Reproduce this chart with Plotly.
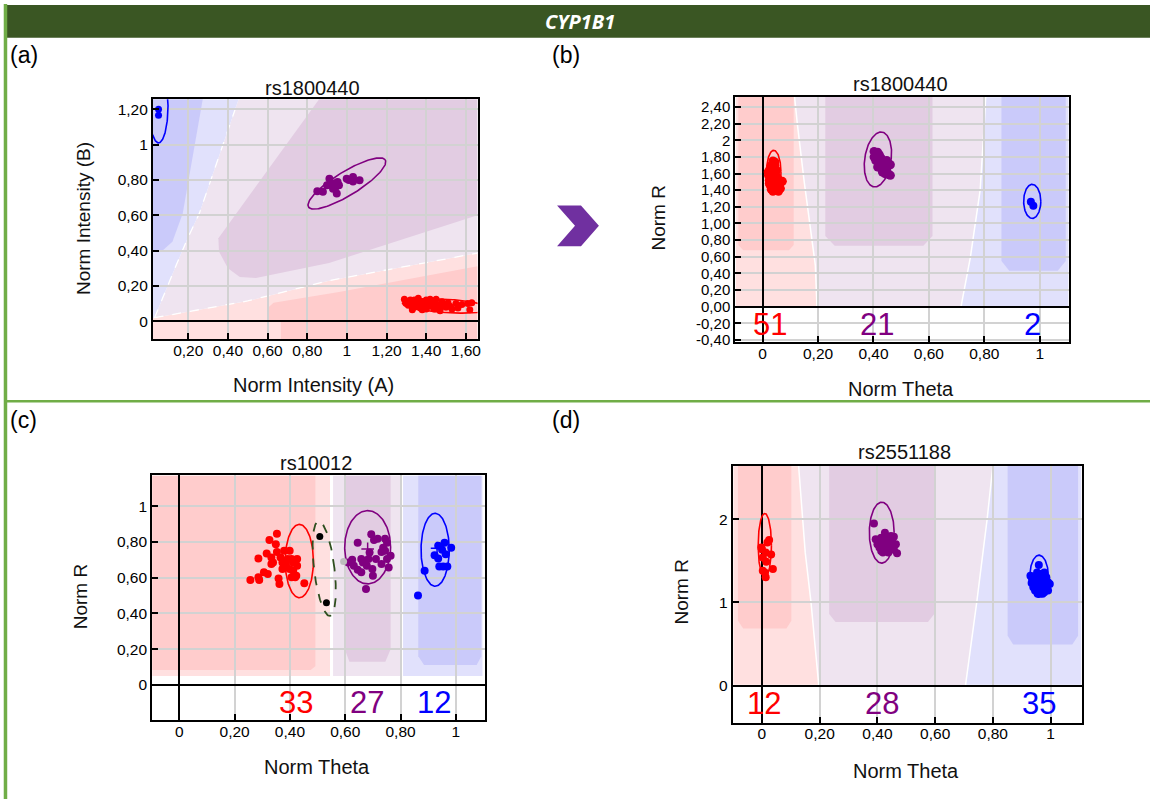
import numpy as np
import plotly.graph_objects as go

W, H = 1154, 805

# ---------------- text ----------------
HEADER = "CYP1B1"
PANEL_LABELS = ["(a)", "(b)", "(c)", "(d)"]
SNP_TITLES = ["rs1800440", "rs1800440", "rs10012", "rs2551188"]
X_TITLES = ["Norm Intensity (A)", "Norm Theta", "Norm Theta", "Norm Theta"]
Y_TITLES = ["Norm Intensity (B)", "Norm R", "Norm R", "Norm R"]

# ---------------- axes ----------------
A_XRANGE = [0.022, 1.659]
A_YRANGE = [-0.103, 1.257]
B_XRANGE = [-0.099, 1.106]
B_YRANGE = [-0.43, 2.526]
C_XRANGE = [-0.098, 1.106]
C_YRANGE = [-0.198, 1.172]
D_XRANGE = [-0.101, 1.108]
D_YRANGE = [-0.448, 2.644]

A_XTICKS = [0.2, 0.4, 0.6, 0.8, 1.0, 1.2, 1.4, 1.6]
A_XTICKTEXT = ["0,20", "0,40", "0,60", "0,80", "1", "1,20", "1,40", "1,60"]
A_YTICKS = [0, 0.2, 0.4, 0.6, 0.8, 1.0, 1.2]
A_YTICKTEXT = ["0", "0,20", "0,40", "0,60", "0,80", "1", "1,20"]
THETA_TICKS = [0, 0.2, 0.4, 0.6, 0.8, 1.0]
THETA_TICKTEXT = ["0", "0,20", "0,40", "0,60", "0,80", "1"]
B_YTICKS = [-0.4, -0.2, 0, 0.2, 0.4, 0.6, 0.8, 1.0, 1.2, 1.4, 1.6, 1.8, 2.0, 2.2, 2.4]
B_YTICKTEXT = ["-0,40", "-0,20", "0,00", "0,20", "0,40", "0,60", "0,80", "1,00",
               "1,20", "1,40", "1,60", "1,80", "2", "2,20", "2,40"]
C_YTICKS = [0, 0.2, 0.4, 0.6, 0.8, 1.0]
C_YTICKTEXT = ["0", "0,20", "0,40", "0,60", "0,80", "1"]
D_YTICKS = [0, 1, 2]
D_YTICKTEXT = ["0", "1", "2"]

# ---------------- genotype counts ----------------
B_COUNTS = ["51", "21", "2"]
B_COUNT_X = [0.028, 0.412, 0.975]
C_COUNTS = ["33", "27", "12"]
C_COUNT_X = [0.423, 0.677, 0.92]
D_COUNTS = ["12", "28", "35"]
D_COUNT_X = [0.006, 0.417, 0.96]

# ---------------- cluster points ----------------
# (a) Norm Intensity A / B
A_RED_X = [1.29, 1.30, 1.31, 1.32, 1.33, 1.34, 1.35, 1.36, 1.36, 1.37, 1.38, 1.39, 1.40, 1.40,
           1.41, 1.42, 1.43, 1.44, 1.44, 1.45, 1.46, 1.47, 1.48, 1.49, 1.50, 1.51, 1.52, 1.53,
           1.55, 1.56, 1.58, 1.61, 1.63, 1.62, 1.33, 1.38, 1.47, 1.42, 1.35, 1.30, 1.34, 1.37]
A_RED_Y = [0.125, 0.11, 0.09, 0.12, 0.10, 0.08, 0.115, 0.095, 0.13, 0.075, 0.11, 0.09, 0.12, 0.07,
           0.10, 0.085, 0.115, 0.07, 0.10, 0.125, 0.09, 0.075, 0.11, 0.095, 0.08, 0.105, 0.085, 0.07,
           0.10, 0.075, 0.095, 0.10, 0.105, 0.065, 0.065, 0.065, 0.06, 0.125, 0.095, 0.10, 0.12, 0.10]
A_PURPLE_X = [0.851, 0.879, 0.912, 0.925, 0.944, 0.949, 0.953, 0.999, 1.031, 1.031, 1.064,
              0.94, 0.93, 0.96, 0.90, 1.01]
A_PURPLE_Y = [0.736, 0.733, 0.807, 0.779, 0.761, 0.723, 0.789, 0.807, 0.817, 0.792, 0.798,
              0.78, 0.75, 0.77, 0.77, 0.80]
A_BLUE_X = [0.05, 0.05]
A_BLUE_Y = [1.20, 1.166]

# (b) rs1800440 Theta / R
B_RED_X = [0.037, 0.031, 0.044, 0.024, 0.037, 0.050, 0.021, 0.035, 0.048, 0.024, 0.037, 0.053,
           0.071, 0.027, 0.044, 0.061, 0.031, 0.048, 0.064, 0.037, 0.057, 0.024, 0.041, 0.028,
           0.054, 0.044, 0.020, 0.033, 0.050, 0.044]
B_RED_Y = [1.751, 1.698, 1.698, 1.638, 1.638, 1.638, 1.579, 1.579, 1.579, 1.519, 1.519, 1.519,
           1.507, 1.460, 1.460, 1.460, 1.412, 1.412, 1.420, 1.388, 1.388, 1.480, 1.607, 1.539,
           1.548, 1.739, 1.619, 1.440, 1.440, 1.667]
B_PURPLE_X = [0.402, 0.415, 0.408, 0.421, 0.428, 0.408, 0.435, 0.421, 0.454, 0.461, 0.441,
              0.415, 0.428, 0.448, 0.454, 0.441, 0.461, 0.435, 0.402, 0.448, 0.432]
B_PURPLE_Y = [1.865, 1.858, 1.818, 1.826, 1.786, 1.758, 1.739, 1.718, 1.718, 1.706, 1.698,
              1.679, 1.659, 1.639, 1.587, 1.599, 1.579, 1.679, 1.798, 1.758, 1.619]
B_BLUE_X = [0.968, 0.977]
B_BLUE_Y = [1.261, 1.214]

# (c) rs10012 Theta / R
C_RED_X = [0.257, 0.286, 0.289, 0.286, 0.316, 0.320, 0.326, 0.333, 0.339, 0.353, 0.349, 0.353,
           0.359, 0.362, 0.373, 0.379, 0.392, 0.399, 0.399, 0.406, 0.412, 0.419, 0.426, 0.426,
           0.423, 0.452, 0.333, 0.366, 0.306, 0.406, 0.386, 0.373, 0.412]
C_RED_Y = [0.587, 0.602, 0.587, 0.707, 0.735, 0.620, 0.811, 0.713, 0.685, 0.846, 0.787, 0.744,
           0.596, 0.565, 0.685, 0.750, 0.704, 0.750, 0.648, 0.704, 0.639, 0.602, 0.704, 0.667,
           0.611, 0.569, 0.676, 0.713, 0.630, 0.602, 0.676, 0.648, 0.685]
C_PURPLE_X = [0.645, 0.694, 0.704, 0.717, 0.744, 0.751, 0.611, 0.625, 0.631, 0.645, 0.658, 0.658,
              0.678, 0.684, 0.688, 0.698, 0.700, 0.711, 0.731, 0.731, 0.744, 0.751, 0.757, 0.764,
              0.675, 0.664, 0.737]
C_PURPLE_Y = [0.796, 0.843, 0.811, 0.818, 0.818, 0.796, 0.685, 0.700, 0.667, 0.644, 0.704, 0.630,
              0.667, 0.704, 0.741, 0.648, 0.611, 0.704, 0.744, 0.676, 0.750, 0.704, 0.657, 0.722,
              0.537, 0.685, 0.768]
C_BLUE_X = [0.887, 0.863, 0.923, 0.936, 0.959, 0.950, 0.983, 0.963, 0.940, 0.969, 0.954, 0.936]
C_BLUE_Y = [0.639, 0.500, 0.726, 0.778, 0.796, 0.756, 0.767, 0.731, 0.663, 0.663, 0.663, 0.707]
C_NOCALL_X = [0.508, 0.532]
C_NOCALL_Y = [0.830, 0.459]
C_GREY_X = [0.594]
C_GREY_Y = [0.691]
C_CENTER_X = [0.681, 0.932]
C_CENTER_Y = [0.761, 0.765]

# (d) rs2551188 Theta / R
D_RED_X = [-0.002, 0.003, 0.013, 0.019, 0.025, 0.032, 0.038, 0.003, 0.013, 0.010, 0.015, 0.000]
D_RED_Y = [1.658, 1.539, 1.598, 1.718, 1.750, 1.574, 1.400, 1.380, 1.300, 1.360, 1.487, 1.638]
D_PURPLE_X = [0.388, 0.426, 0.447, 0.457, 0.394, 0.407, 0.419, 0.432, 0.445, 0.464, 0.407, 0.426,
              0.438, 0.451, 0.419, 0.468, 0.413, 0.400, 0.432, 0.445, 0.457, 0.426, 0.413, 0.438,
              0.451, 0.419, 0.432, 0.445]
D_PURPLE_Y = [1.948, 1.837, 1.797, 1.789, 1.758, 1.738, 1.718, 1.718, 1.698, 1.698, 1.658, 1.638,
              1.646, 1.678, 1.598, 1.591, 1.777, 1.698, 1.777, 1.758, 1.638, 1.686, 1.618, 1.598,
              1.726, 1.758, 1.658, 1.630]
D_BLUE_X = [0.959, 0.930, 0.940, 0.953, 0.966, 0.978, 0.985, 0.991, 0.934, 0.946, 0.959, 0.972,
            0.985, 0.953, 0.966, 0.940, 0.978, 0.991, 0.955, 0.972, 0.950, 0.963, 0.976, 0.937,
            0.988, 0.997, 0.968, 0.946, 0.959, 0.981, 0.934, 0.972, 0.953, 0.966, 0.985]
D_BLUE_Y = [1.448, 1.320, 1.288, 1.320, 1.340, 1.360, 1.300, 1.240, 1.233, 1.221, 1.240, 1.261,
            1.181, 1.162, 1.141, 1.181, 1.121, 1.141, 1.102, 1.209, 1.272, 1.288, 1.300, 1.261,
            1.209, 1.221, 1.181, 1.141, 1.201, 1.240, 1.300, 1.102, 1.360, 1.240, 1.272]

# ---------------- cluster ellipses: centre x, centre y, semi-axis x, semi-axis y, angle ----------------
A_ELLIPSES = [("blue", 0.05, 1.22, 0.048, 0.21, 0), ("purple", 1.0, 0.78, 0.235, 0.065, 35),
              ("red", 1.50, 0.087, 0.22, 0.038, -4)]
B_ELLIPSES = [("red", 0.04, 1.62, 0.026, 0.26, 0), ("purple", 0.416, 1.77, 0.048, 0.33, -2),
              ("blue", 0.973, 1.266, 0.031, 0.205, 0)]
C_ELLIPSES = [("red", 0.434, 0.693, 0.051, 0.205, 0), ("purple", 0.681, 0.77, 0.083, 0.205, 0),
              ("blue", 0.925, 0.756, 0.051, 0.204, 0)]
C_NOCALL_ELLIPSE = (0.524, 0.651, 0.037, 0.266, 4.3)
D_ELLIPSES = [("red", 0.01, 1.684, 0.023, 0.384, 0), ("purple", 0.415, 1.837, 0.043, 0.366, 0),
              ("blue", 0.96, 1.314, 0.032, 0.253, 0)]

# ---------------- call regions (polygons in data units) ----------------
A_REGIONS = [
    ("LR", [0.022, 1.659, 1.659, 0.91, 0.5, 0.03, 0.022],
           [-0.103, -0.103, 0.386, 0.23, 0.115, 0.02, 0.02]),
    ("LP", [0.03, 0.5, 0.91, 1.659, 1.659, 0.454, 0.256, 0.197, 0.14],
           [0.02, 0.115, 0.23, 0.386, 1.257, 1.257, 0.611, 0.47, 0.32]),
    ("LB", [0.022, 0.03, 0.14, 0.197, 0.256, 0.454, 0.022],
           [0.02, 0.02, 0.32, 0.47, 0.611, 1.257, 1.257]),
    ("DR", [0.667, 0.667, 0.605, 0.605, 0.63, 0.96, 1.659, 1.659],
           [-0.103, 0.0, 0.0, 0.08, 0.105, 0.165, 0.311, -0.103]),
    ("DP", [0.352, 0.86, 1.659, 1.659, 0.91, 0.541, 0.46, 0.40, 0.355],
           [0.47, 1.257, 1.257, 0.60, 0.33, 0.245, 0.25, 0.30, 0.395]),
    ("DB", [0.022, 0.273, 0.172, 0.12, 0.065, 0.022], [1.257, 1.257, 0.61, 0.45, 0.395, 0.395]),
]
A_BOUNDARIES = [
    ([0.03, 0.5, 0.91, 1.659], [0.02, 0.115, 0.23, 0.386]),
    ([0.03, 0.14, 0.197, 0.256, 0.454], [0.02, 0.32, 0.47, 0.611, 1.257]),
]
B_REGIONS = [
    ("LP", [-0.099, 1.106, 1.106, -0.099], [0, 0, 2.526, 2.526]),
    ("LR", [-0.099, -0.099, 0.115, 0.125, 0.15, 0.19, 0.196], [0, 2.526, 2.526, 2.2, 1.5, 0.5, 0]),
    ("LB", [0.716, 0.75, 0.785, 0.80, 0.805, 1.106, 1.106], [0, 0.6, 1.4, 2.2, 2.526, 2.526, 0]),
    ("DR", [-0.088, 0.112, 0.112, 0.095, -0.07, -0.088], [2.526, 2.526, 0.74, 0.677, 0.677, 0.74]),
    ("DP", [0.226, 0.613, 0.613, 0.58, 0.26, 0.226], [2.526, 2.526, 0.85, 0.731, 0.731, 0.85]),
    ("DB", [0.862, 1.094, 1.094, 1.065, 0.89, 0.862], [2.526, 2.526, 0.55, 0.433, 0.433, 0.55]),
]
C_REGIONS = [
    ("LR", [-0.098, -0.098, 0.545, 0.545], [0.05, 1.172, 1.172, 0.05]),
    ("LP", [0.556, 0.556, 0.800, 0.800], [0.05, 1.172, 1.172, 0.05]),
    ("LB", [0.809, 0.809, 1.096, 1.096], [0.05, 1.172, 1.172, 0.05]),
    ("DR", [-0.098, -0.098, 0.492, 0.492, 0.475], [0.083, 1.172, 1.172, 0.105, 0.083]),
    ("DP", [0.598, 0.764, 0.764, 0.745, 0.615, 0.598], [1.172, 1.172, 0.20, 0.13, 0.13, 0.20]),
    ("DB", [0.864, 1.092, 1.092, 1.075, 0.885, 0.864], [1.172, 1.172, 0.16, 0.111, 0.111, 0.16]),
]
D_REGIONS = [
    ("LP", [-0.101, 1.108, 1.108, -0.101], [0, 0, 2.644, 2.644]),
    ("LR", [-0.101, -0.101, 0.127, 0.15, 0.17, 0.197], [0, 2.644, 2.644, 1.6, 1.0, 0]),
    ("LB", [0.705, 0.744, 0.78, 0.80, 1.108, 1.108], [0, 1.0, 2.0, 2.644, 2.644, 0]),
    ("DR", [-0.083, 0.102, 0.102, 0.085, -0.065, -0.083], [2.644, 2.644, 0.78, 0.685, 0.685, 0.78]),
    ("DP", [0.233, 0.597, 0.597, 0.575, 0.255, 0.233], [2.644, 2.644, 0.86, 0.763, 0.763, 0.86]),
    ("DB", [0.851, 1.095, 1.095, 1.075, 0.87, 0.851], [2.644, 2.644, 0.6, 0.494, 0.494, 0.6]),
]

# ---------------- styles ----------------
COL = {"red": "#FF0000", "purple": "#800080", "blue": "#0000FF"}
FILL = {"LR": "#FFE0E0", "DR": "#FFCCCC", "LP": "#EFE4F0", "DP": "#E2CCE2",
        "LB": "#E1E1FC", "DB": "#CACAFA"}
FONT = "Liberation Sans, Arial, sans-serif"
GRID = "#D2D2D2"


def px(x):
    return x / W


def py(y):
    return 1 - y / H


def ellipse(cx, cy, rx, ry, ang):
    t = np.linspace(0, 2 * np.pi, 160)
    a = np.radians(ang)
    ex = cx + rx * np.cos(t) * np.cos(a) - ry * np.sin(t) * np.sin(a)
    ey = cy + rx * np.cos(t) * np.sin(a) + ry * np.sin(t) * np.cos(a)
    return ex, ey


def path_of(xs, ys, close=True):
    s = "M " + " L ".join(f"{x},{y}" for x, y in zip(xs, ys))
    return s + (" Z" if close else "")


fig = go.Figure()
shapes = []
annotations = []

panels = [
    dict(xa="x", ya="y", xdom=(153.5, 479.2), ydom=(100, 342), xr=A_XRANGE, yr=A_YRANGE,
         xt=A_XTICKS, xtt=A_XTICKTEXT, yt=A_YTICKS, ytt=A_YTICKTEXT, regions=A_REGIONS,
         ell=A_ELLIPSES, pts=[("red", A_RED_X, A_RED_Y, 7), ("purple", A_PURPLE_X, A_PURPLE_Y, 8),
                              ("blue", A_BLUE_X, A_BLUE_Y, 7)],
         title=(314, 88.3), xtitle=(314.7, 388.3), ytitle=(84, 220), label=(8, 55),
         counts=None, ytfs=15.5),
    dict(xa="x2", ya="y2", xdom=(737.8, 1072.8), ydom=(97.3, 345), xr=B_XRANGE, yr=B_YRANGE,
         xt=THETA_TICKS, xtt=THETA_TICKTEXT, yt=B_YTICKS, ytt=B_YTICKTEXT, regions=B_REGIONS,
         ell=B_ELLIPSES, pts=[("red", B_RED_X, B_RED_Y, 9), ("purple", B_PURPLE_X, B_PURPLE_Y, 9),
                              ("blue", B_BLUE_X, B_BLUE_Y, 8)],
         title=(903.8, 84.3), xtitle=(904.6, 391.7), ytitle=(660.5, 220), label=(552, 55),
         counts=(B_COUNTS, B_COUNT_X, -0.22), ytfs=15),
    dict(xa="x3", ya="y3", xdom=(152.7, 486.9), ydom=(479, 725.7), xr=C_XRANGE, yr=C_YRANGE,
         xt=THETA_TICKS, xtt=THETA_TICKTEXT, yt=C_YTICKS, ytt=C_YTICKTEXT, regions=C_REGIONS,
         ell=C_ELLIPSES, pts=[("red", C_RED_X, C_RED_Y, 8), ("purple", C_PURPLE_X, C_PURPLE_Y, 8),
                              ("blue", C_BLUE_X, C_BLUE_Y, 8)],
         title=(317, 466.7), xtitle=(318.4, 772.3), ytitle=(80.2, 600.8), label=(8, 422.7),
         counts=(C_COUNTS, C_COUNT_X, -0.10), ytfs=15.5),
    dict(xa="x4", ya="y4", xdom=(735.3, 1085.6), ydom=(469, 728.3), xr=D_XRANGE, yr=D_YRANGE,
         xt=THETA_TICKS, xtt=THETA_TICKTEXT, yt=D_YTICKS, ytt=D_YTICKTEXT, regions=D_REGIONS,
         ell=D_ELLIPSES, pts=[("red", D_RED_X, D_RED_Y, 8), ("purple", D_PURPLE_X, D_PURPLE_Y, 8),
                              ("blue", D_BLUE_X, D_BLUE_Y, 8)],
         title=(908, 455), xtitle=(909, 776.7), ytitle=(683.7, 596.7), label=(552, 422.7),
         counts=(D_COUNTS, D_COUNT_X, -0.21), ytfs=15.5),
]

layout_axes = {}
for i, p in enumerate(panels):
    n = "" if i == 0 else str(i + 1)
    common = dict(showgrid=True, gridcolor=GRID, gridwidth=2, showline=True, mirror=True,
                  linecolor="black", linewidth=2, ticks="inside", ticklen=6, tickwidth=2,
                  tickcolor="black", zeroline=True, zerolinecolor="black", zerolinewidth=2,
                  tickfont=dict(family=FONT, size=15.5, color="black"), fixedrange=True)
    layout_axes["xaxis" + n] = dict(common, domain=[px(p["xdom"][0]), px(p["xdom"][1])],
                                    range=p["xr"], tickvals=p["xt"], ticktext=p["xtt"],
                                    anchor="y" + n, ticklabelstandoff=-4)
    ycommon = dict(common)
    ycommon["tickfont"] = dict(family=FONT, size=p["ytfs"], color="black")
    layout_axes["yaxis" + n] = dict(ycommon, domain=[py(p["ydom"][1]), py(p["ydom"][0])],
                                    range=p["yr"], tickvals=p["yt"], ticktext=p["ytt"],
                                    anchor="x" + n, ticklabelstandoff=0)

    # regions
    for key, xs, ys in p["regions"]:
        line = dict(width=0)
        if key in ("LR", "LB") and i in (1, 3):
            line = dict(color="white", width=1.5)
        shapes.append(dict(type="path", xref=p["xa"], yref=p["ya"], path=path_of(xs, ys),
                           fillcolor=FILL[key], line=line, layer="below"))
    if i == 0:
        for bx, by in A_BOUNDARIES:
            shapes.append(dict(type="path", xref="x", yref="y", path=path_of(bx, by, False),
                               line=dict(color="white", width=1.3, dash="dash"), layer="below"))

    # ellipses
    for c, cx, cy, rx, ry, ang in p["ell"]:
        ex, ey = ellipse(cx, cy, rx, ry, ang)
        fig.add_trace(go.Scatter(x=ex, y=ey, mode="lines", xaxis=p["xa"], yaxis=p["ya"],
                                 line=dict(color=COL[c], width=1.6), hoverinfo="skip"))
    # points
    for c, xs, ys, sz in p["pts"]:
        fig.add_trace(go.Scatter(x=xs, y=ys, mode="markers", xaxis=p["xa"], yaxis=p["ya"],
                                 marker=dict(color=COL[c], size=sz, line=dict(width=0))))

    # titles
    annotations.append(dict(text=SNP_TITLES[i], x=px(p["title"][0]), y=py(p["title"][1]),
                            xref="paper", yref="paper", showarrow=False,
                            font=dict(family=FONT, size=20, color="#111111"),
                            xanchor="center", yanchor="middle"))
    annotations.append(dict(text=X_TITLES[i], x=px(p["xtitle"][0]), y=py(p["xtitle"][1]),
                            xref="paper", yref="paper", showarrow=False,
                            font=dict(family=FONT, size=20, color="#111111"),
                            xanchor="center", yanchor="middle"))
    annotations.append(dict(text=Y_TITLES[i], x=px(p["ytitle"][0]), y=py(p["ytitle"][1]),
                            xref="paper", yref="paper", showarrow=False, textangle=-90,
                            font=dict(family=FONT, size=19, color="#111111"),
                            xanchor="center", yanchor="middle"))
    annotations.append(dict(text=PANEL_LABELS[i], x=px(p["label"][0]), y=py(p["label"][1]),
                            xref="paper", yref="paper", showarrow=False,
                            font=dict(family=FONT, size=23, color="black"),
                            xanchor="left", yanchor="middle"))
    if p["counts"]:
        labels, xs, yv = p["counts"]
        for lab, xv, c in zip(labels, xs, ["red", "purple", "blue"]):
            annotations.append(dict(text=lab, x=xv, y=yv, xref=p["xa"], yref=p["ya"],
                                    showarrow=False, xanchor="center", yanchor="middle",
                                    font=dict(family=FONT, size=31, color=COL[c])))

# extra marks in panel (c)
ex, ey = ellipse(*C_NOCALL_ELLIPSE)
fig.add_trace(go.Scatter(x=ex, y=ey, mode="lines", xaxis="x3", yaxis="y3",
                         line=dict(color="#2F4F1F", width=1.8, dash="dash"), hoverinfo="skip"))
fig.add_trace(go.Scatter(x=C_GREY_X, y=C_GREY_Y, mode="markers", xaxis="x3", yaxis="y3",
                         marker=dict(color="#BDBDBD", size=7)))
fig.add_trace(go.Scatter(x=C_NOCALL_X, y=C_NOCALL_Y, mode="markers", xaxis="x3", yaxis="y3",
                         marker=dict(color="black", size=7)))
fig.add_trace(go.Scatter(x=C_CENTER_X, y=C_CENTER_Y, mode="markers", xaxis="x3", yaxis="y3",
                         marker=dict(color=[COL["purple"], COL["blue"]], size=9,
                                     symbol="cross-thin", line=dict(width=1.5,
                                     color=[COL["purple"], COL["blue"]]))))

# header bar, frame lines, chevron
shapes.append(dict(type="rect", xref="paper", yref="paper", x0=px(7), x1=1.0,
                   y0=py(38), y1=py(5), fillcolor="#3A5623", line=dict(width=0), layer="above"))
shapes.append(dict(type="line", xref="paper", yref="paper", x0=px(5.5), x1=px(5.5),
                   y0=0, y1=py(4), line=dict(color="#70AD47", width=3.5), layer="above"))
shapes.append(dict(type="line", xref="paper", yref="paper", x0=px(5), x1=1.0,
                   y0=py(404.3), y1=py(404.3), line=dict(color="#70AD47", width=2.5),
                   layer="above"))
chev = [(559, 207), (583, 207), (601, 227.5), (583, 248), (559, 248), (577, 227.5)]
shapes.append(dict(type="path", xref="paper", yref="paper",
                   path=path_of([px(a) for a, b in chev], [py(b) for a, b in chev]),
                   fillcolor="#7030A0", line=dict(width=0), layer="above"))
annotations.append(dict(text=HEADER, x=px(582), y=py(21.5), xref="paper", yref="paper",
                        showarrow=False, xanchor="center", yanchor="middle",
                        font=dict(family="Open Sans, sans-serif", size=20, color="white",
                                  weight="bold", style="italic")))

fig.update_layout(width=W, height=H, autosize=False, margin=dict(l=0, r=0, t=0, b=0),
                  paper_bgcolor="white", plot_bgcolor="white", showlegend=False,
                  shapes=shapes, annotations=annotations, **layout_axes)

fig.write_html("out.html", config={"displayModeBar": False},
               post_script="document.body.style.margin='0px';")
